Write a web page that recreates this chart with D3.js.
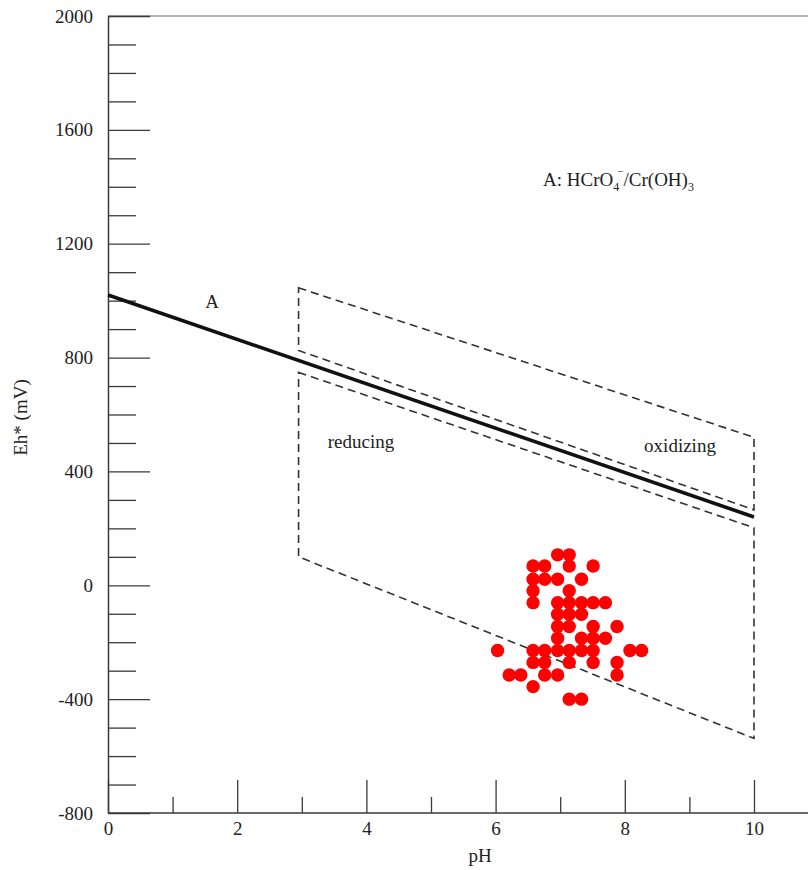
<!DOCTYPE html>
<html>
<head>
<meta charset="utf-8">
<script src="https://cdn.jsdelivr.net/npm/d3@7"></script>
<style>
  html, body { margin: 0; padding: 0; background: #fff; }
  svg { display: block; }
  text { font-family: "Liberation Serif", "DejaVu Serif", serif; fill: #222; }
</style>
</head>
<body>
<svg id="chart" width="808" height="870"></svg>
<script>
// ---- data ----
const phMajorTicks = [0, 2, 4, 6, 8, 10];
const phMinorTicks = [1, 3, 5, 7, 9];
const ehMajorTicks = [-800, -400, 0, 400, 800, 1200, 1600, 2000];
const ehMinorTicks = d3.range(-800, 2001, 100).filter(v => v % 400 !== 0);

const lineA_pH = [0, 10];
const lineA_Eh = [1020, 240];

const boxUpper_pH = [2.95, 10, 10, 2.95];
const boxUpper_Eh = [1045, 520, 265, 825];
const boxLower_pH = [2.95, 10, 10, 2.95];
const boxLower_Eh = [748, 202, -538, 100];

const pointPH = [
  6.96, 7.14,
  6.58, 6.76, 7.14, 7.51,
  6.58, 6.76, 6.96, 7.33,
  6.58, 7.14,
  6.58, 6.96, 7.14, 7.33, 7.51, 7.70,
  6.96, 7.14, 7.33,
  6.96, 7.14, 7.51, 7.88,
  6.96, 7.33, 7.51, 7.70,
  6.03, 6.58, 6.76, 6.96, 7.14, 7.33, 7.51, 8.08, 8.26,
  6.58, 6.76, 7.14, 7.51, 7.88,
  6.21, 6.39, 6.76, 6.96, 7.88,
  6.58,
  7.14, 7.33
];
const pointEh = [
  107, 107,
  68, 68, 68, 68,
  21, 21, 21, 21,
  -19, -19,
  -61, -61, -61, -61, -61, -61,
  -102, -102, -102,
  -145, -145, -145, -145,
  -186, -186, -186, -186,
  -229, -229, -229, -229, -229, -229, -229, -229, -229,
  -271, -271, -271, -271, -271,
  -315, -315, -315, -315, -315,
  -356,
  -400, -400
];

// ---- layout ----
const svg = d3.select("#chart");
const x = d3.scaleLinear().domain([0, 10]).range([108, 754]);
const y = d3.scaleLinear().domain([-800, 2000]).range([813, 16]);

const axisColor = "#3a3a3a";
const plainFmt = d => String(d);

// top border line
svg.append("line")
  .attr("x1", x(0)).attr("x2", 808)
  .attr("y1", y(2000)).attr("y2", y(2000))
  .attr("stroke", "#666").attr("stroke-width", 1.2);

// x axis line extended to the right edge
svg.append("line")
  .attr("x1", x(0)).attr("x2", 808)
  .attr("y1", y(-800)).attr("y2", y(-800))
  .attr("stroke", axisColor).attr("stroke-width", 1.5);

// y axis: minor ticks
svg.append("g")
  .attr("transform", `translate(${x(0)},0)`)
  .call(d3.axisLeft(y).tickValues(ehMinorTicks).tickSize(-28).tickFormat(""))
  .call(g => g.select(".domain").remove())
  .call(g => g.selectAll("line").attr("stroke", axisColor).attr("stroke-width", 1.3));

// y axis: major ticks + labels
svg.append("g")
  .attr("transform", `translate(${x(0)},0)`)
  .call(d3.axisLeft(y).tickValues(ehMajorTicks).tickSize(-42).tickSizeOuter(0)
    .tickPadding(15).tickFormat(plainFmt))
  .call(g => g.select(".domain").attr("stroke", axisColor).attr("stroke-width", 1.5))
  .call(g => g.selectAll("line").attr("stroke", axisColor).attr("stroke-width", 1.3))
  .call(g => g.selectAll("text")
    .style("font-family", "'Liberation Serif', serif")
    .style("font-size", "19px").attr("fill", "#222"));

// x axis: minor ticks
svg.append("g")
  .attr("transform", `translate(0,${y(-800)})`)
  .call(d3.axisBottom(x).tickValues(phMinorTicks).tickSize(-16).tickFormat(""))
  .call(g => g.select(".domain").remove())
  .call(g => g.selectAll("line").attr("stroke", axisColor).attr("stroke-width", 1.3));

// x axis: major ticks + labels
svg.append("g")
  .attr("transform", `translate(0,${y(-800)})`)
  .call(d3.axisBottom(x).tickValues(phMajorTicks).tickSize(-33).tickPadding(9)
    .tickFormat(plainFmt))
  .call(g => g.select(".domain").remove())
  .call(g => g.selectAll("line").attr("stroke", axisColor).attr("stroke-width", 1.3))
  .call(g => g.selectAll("text")
    .style("font-family", "'Liberation Serif', serif")
    .style("font-size", "19px").attr("fill", "#222"));

// axis titles
svg.append("text")
  .attr("x", 480).attr("y", 862)
  .attr("text-anchor", "middle")
  .style("font-size", "19px")
  .text("pH");

svg.append("text")
  .attr("transform", `translate(27,${(378 + 457) / 2}) rotate(-90)`)
  .attr("text-anchor", "middle")
  .style("font-size", "19px")
  .text("Eh* (mV)");

// dashed parallelograms
const poly = (phs, ehs) => "M" + phs.map((p, i) => `${x(p)},${y(ehs[i])}`).join("L") + "Z";
[[boxUpper_pH, boxUpper_Eh], [boxLower_pH, boxLower_Eh]].forEach(([p, e]) => {
  svg.append("path")
    .attr("d", poly(p, e))
    .attr("fill", "none")
    .attr("stroke", "#333")
    .attr("stroke-width", 1.6)
    .attr("stroke-dasharray", "8,5");
});

// line A
svg.append("path")
  .datum(lineA_pH.map((p, i) => [p, lineA_Eh[i]]))
  .attr("d", d3.line().x(d => x(d[0])).y(d => y(d[1])))
  .attr("fill", "none")
  .attr("stroke", "#111")
  .attr("stroke-width", 3.6);

// labels
svg.append("text").attr("x", 212).attr("y", 308).attr("text-anchor", "middle")
  .style("font-size", "19px").text("A");
svg.append("text").attr("x", 361).attr("y", 448).attr("text-anchor", "middle")
  .style("font-size", "19px").text("reducing");
svg.append("text").attr("x", 680).attr("y", 452).attr("text-anchor", "middle")
  .style("font-size", "19px").text("oxidizing");

const lab = svg.append("text").attr("x", 543).attr("y", 186).style("font-size", "19px");
lab.append("tspan").text("A: HCrO");
lab.append("tspan").attr("dy", 5).style("font-size", "12px").text("4");
lab.append("tspan").attr("dy", -13).attr("dx", -2).style("font-size", "12px").text("⁻");
lab.append("tspan").attr("dy", 8).text("/Cr(OH)");
lab.append("tspan").attr("dy", 5).style("font-size", "12px").text("3");

// red points
svg.append("g").selectAll("circle")
  .data(pointPH.map((p, i) => [p, pointEh[i]]))
  .join("circle")
  .attr("cx", d => x(d[0]))
  .attr("cy", d => y(d[1]))
  .attr("r", 6.7)
  .attr("fill", "#ff0000");
</script>
</body>
</html>
